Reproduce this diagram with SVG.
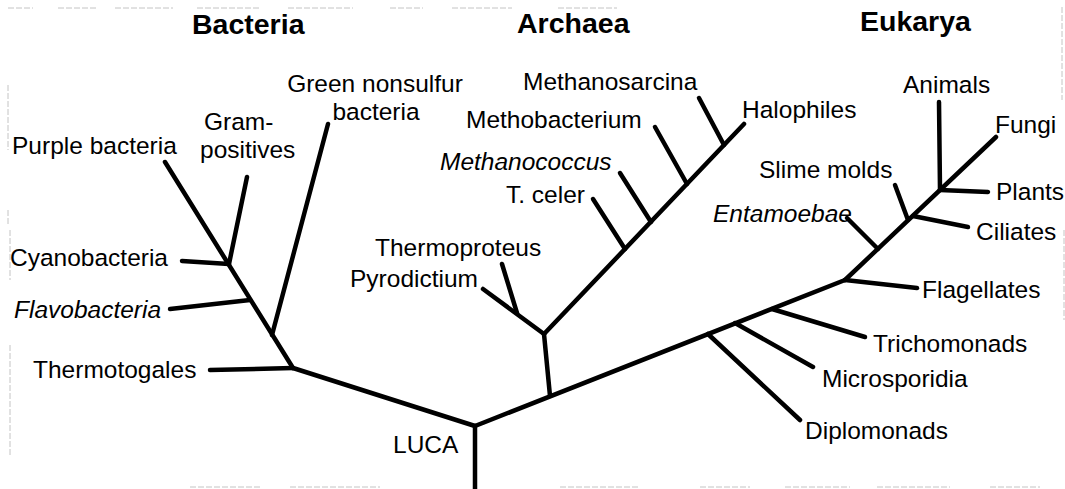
<svg xmlns="http://www.w3.org/2000/svg" width="1065" height="489" viewBox="0 0 1065 489">
<style>
.bg{fill:#ffffff}
.scan{stroke:#c4c4c4;stroke-width:1;fill:none;stroke-dasharray:6 2}
.br{stroke:#000;stroke-width:4.5;fill:none;stroke-linecap:round;stroke-linejoin:round}
.lbl{font-family:"Liberation Sans",Arial,Helvetica,sans-serif;font-size:24.5px;fill:#000}
.it{font-style:italic}
.dom{font-family:"Liberation Sans",Arial,Helvetica,sans-serif;font-size:28.5px;font-weight:bold;fill:#000}
.mid{text-anchor:middle}
</style>
<rect class="bg" x="0" y="0" width="1065" height="489"/>
<g id="scan-marks">
<path class="scan" d="M8,8H33M58,8H97M115,8H173M197,8H260M288,8H353M390,8H423M452,8H512M558,8H617"/>
<path class="scan" d="M8,85V150M8,210V225M10,230V280M10,345V455"/>
<path class="scan" d="M1062,7V100M1064,230V320"/>
<path class="scan" d="M190,487H260M290,487H380M560,487H640M700,487H750M785,487H850M877,487H950M990,487H1040"/>
</g>
<g id="connectors">
<path class="br" d="M475,489L475,426"/>
<path class="br" d="M475,426L293,368"/>
<path class="br" d="M293,368L210,370"/>
<path class="br" d="M293,368L165,162"/>
<path class="br" d="M272,335L328,124"/>
<path class="br" d="M250,300L170,309"/>
<path class="br" d="M229,264L182,261"/>
<path class="br" d="M229,264L247,177"/>
<path class="br" d="M550,396L544,334"/>
<path class="br" d="M544,334L744,124"/>
<path class="br" d="M625,249L593,199"/>
<path class="br" d="M651,222L620,173"/>
<path class="br" d="M687,184L655,127"/>
<path class="br" d="M724,145L699,98"/>
<path class="br" d="M544,334L483,289"/>
<path class="br" d="M517,313L502,264"/>
<path class="br" d="M475,426L845,280"/>
<path class="br" d="M845,280L996,137"/>
<path class="br" d="M708,334L800,420"/>
<path class="br" d="M735,323L813,367"/>
<path class="br" d="M772,309L865,337"/>
<path class="br" d="M845,280L917,288"/>
<path class="br" d="M878,249L847,218"/>
<path class="br" d="M908,220L895,185"/>
<path class="br" d="M913,216L968,227"/>
<path class="br" d="M940,190L988,192"/>
<path class="br" d="M939,102L940,190"/>
</g>
<g id="domain-bacteria"><text class="dom" x="192" y="34">Bacteria</text></g>
<g id="domain-archaea"><text class="dom" x="517" y="33">Archaea</text></g>
<g id="domain-eukarya"><text class="dom" x="860" y="31">Eukarya</text></g>
<g id="node-luca"><text class="lbl" x="393" y="453">LUCA</text></g>
<g id="node-purple"><text class="lbl" x="12" y="154">Purple bacteria</text></g>
<g id="node-gram"><text class="lbl" x="204" y="130">Gram-</text><text class="lbl" x="200" y="158">positives</text></g>
<g id="node-green"><text class="lbl mid" x="375" y="92">Green nonsulfur</text><text class="lbl mid" x="376" y="120">bacteria</text></g>
<g id="node-cyano"><text class="lbl" x="10" y="266">Cyanobacteria</text></g>
<g id="node-flavo"><text class="lbl it" x="14" y="318">Flavobacteria</text></g>
<g id="node-thermotogales"><text class="lbl" x="33" y="378">Thermotogales</text></g>
<g id="node-methanosarcina"><text class="lbl" x="523" y="90">Methanosarcina</text></g>
<g id="node-methobacterium"><text class="lbl" x="466" y="128">Methobacterium</text></g>
<g id="node-methanococcus"><text class="lbl it" x="440" y="170">Methanococcus</text></g>
<g id="node-tceler"><text class="lbl" x="506" y="203">T. celer</text></g>
<g id="node-thermoproteus"><text class="lbl" x="375" y="256">Thermoproteus</text></g>
<g id="node-pyrodictium"><text class="lbl" x="350" y="287">Pyrodictium</text></g>
<g id="node-halophiles"><text class="lbl" x="742" y="118">Halophiles</text></g>
<g id="node-animals"><text class="lbl" x="903" y="93">Animals</text></g>
<g id="node-fungi"><text class="lbl" x="995" y="133">Fungi</text></g>
<g id="node-slime"><text class="lbl" x="759" y="178">Slime molds</text></g>
<g id="node-plants"><text class="lbl" x="996" y="200">Plants</text></g>
<g id="node-entamoebae"><text class="lbl it" x="713" y="222">Entamoebae</text></g>
<g id="node-ciliates"><text class="lbl" x="976" y="240">Ciliates</text></g>
<g id="node-flagellates"><text class="lbl" x="922" y="298">Flagellates</text></g>
<g id="node-trichomonads"><text class="lbl" x="873" y="352">Trichomonads</text></g>
<g id="node-microsporidia"><text class="lbl" x="822" y="387">Microsporidia</text></g>
<g id="node-diplomonads"><text class="lbl" x="805" y="439">Diplomonads</text></g>
</svg>
